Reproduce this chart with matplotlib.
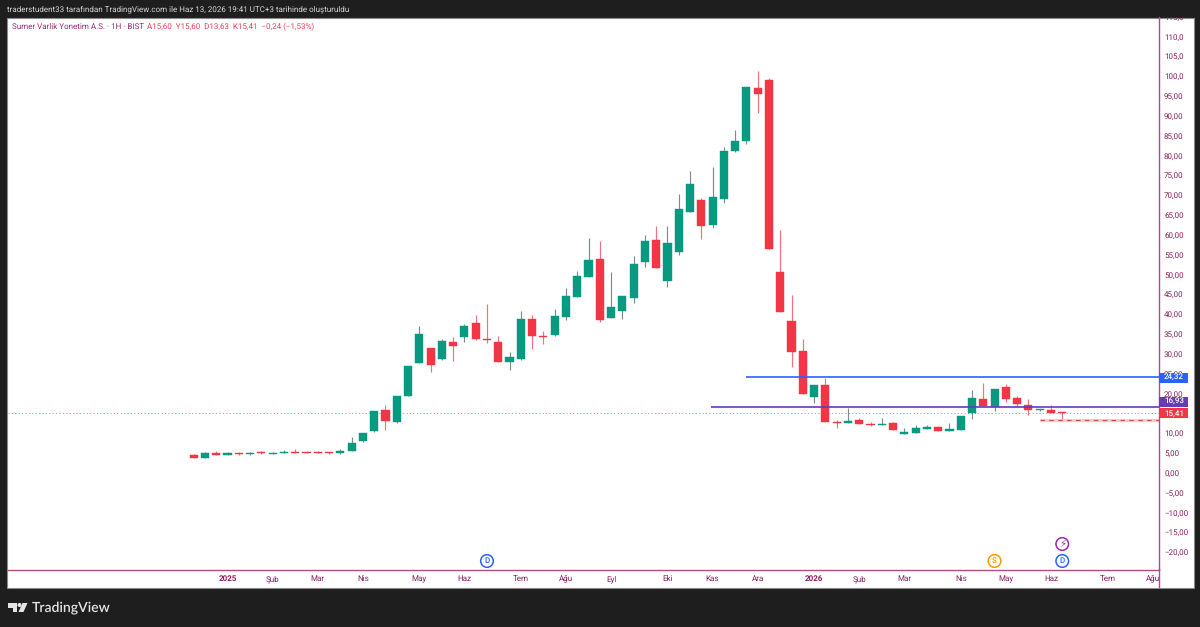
import matplotlib
matplotlib.use("Agg")
import matplotlib.pyplot as plt
from matplotlib.patches import Rectangle, Polygon, Circle
from matplotlib.transforms import ScaledTranslation, Bbox, TransformedBbox, IdentityTransform

# ---------- data (weekly candles) ----------
opens = [4.67,4.08,5.17,4.83,5.13,4.92,5.42,5.0,5.25,5.59,5.5,5.5,5.38,5.25,5.84,8.36,10.8,16.01,13.07,19.54,
         27.94,31.64,28.95,33.15,34.41,38.11,34.0,33.32,28.11,29.03,39.12,34.67,34.92,39.45,44.49,49.71,54.24,39.29,40.97,44.41,
         53.32,59.03,48.7,56.01,65.92,68.95,62.73,69.28,81.3,83.82,97.27,99.28,50.96,38.44,30.88,19.37,22.48,13.06,12.73,13.49,
         12.64,12.31,12.73,10.04,10.21,11.3,11.72,10.8,11.13,15.25,18.78,16.93,21.97,19.12,17.27,16.09,16.17,15.6]
highs = [5.0,5.42,5.67,5.5,5.42,5.5,5.75,5.5,6.0,6.18,5.67,5.67,5.5,6.18,9.29,10.38,15.84,17.35,19.62,27.19,
         37.19,31.64,34.08,34.5,37.86,39.96,42.9,34.66,30.8,40.97,40.13,35.92,41.64,46.85,51.05,59.37,58.7,50.8,44.75,54.83,
         60.3,62.56,62.39,70.46,76.3,69.62,77.3,82.3,86.6,97.6,101.64,99.7,61.55,45.0,33.99,22.31,24.24,13.57,16.59,13.99,
         13.06,14.07,13.15,11.64,12.39,12.22,12.14,12.9,14.5,21.13,22.98,21.3,22.73,19.7,18.78,16.4,17.43,15.6]
lows = [3.99,3.99,4.67,4.75,4.83,4.75,5.09,5.0,5.17,5.17,5.17,5.17,5.09,5.0,5.67,8.11,10.55,11.14,12.82,19.54,
        27.94,25.67,28.61,28.36,33.24,33.82,32.9,28.11,26.26,28.78,31.55,32.73,34.75,38.78,44.49,49.62,38.36,39.29,39.12,43.07,
        52.14,51.81,47.1,55.17,65.92,59.2,61.97,68.28,81.0,83.15,91.05,56.68,40.8,26.85,20.04,17.86,13.07,11.5,12.73,12.48,
        12.14,12.31,11.13,9.96,10.21,11.3,10.8,10.8,11.13,13.9,17.01,15.84,18.1,16.85,14.75,15.9,15.42,13.63]
closes = [3.99,5.17,4.83,5.17,4.96,5.25,5.17,5.17,5.5,5.25,5.25,5.25,5.22,5.76,7.78,10.38,15.84,13.32,19.62,27.19,
          35.17,27.52,33.49,32.23,37.27,33.91,33.74,28.11,29.37,38.95,34.75,34.41,39.79,44.75,49.79,53.82,38.87,41.97,44.75,52.9,
          58.7,51.81,58.11,66.68,73.07,62.39,69.79,81.3,83.8,97.6,95.84,56.68,40.8,30.71,20.04,22.31,13.07,12.81,13.4,12.48,
          12.39,12.64,11.13,10.54,11.47,11.72,10.8,11.22,14.5,19.03,17.01,21.3,18.95,17.6,16.0,16.26,15.42,15.41]

month_positions = [3,7,11,15,20,24,29,33,37,42,46,50,55,59,63,68,72,76,81,85]
month_labels = ["2025","Şub","Mar","Nis","May","Haz","Tem","Ağu","Eyl","Eki","Kas","Ara",
                "2026","Şub","Mar","Nis","May","Haz","Tem","Ağu"]
bold_labels = ["2025","2026"]
price_ticks = [-20,-15,-10,-5,0,5,10,20,25,30,35,40,45,50,55,60,65,70,75,80,85,90,95,100,105,110,115]

last_price = 15.41
blue_level = 24.32
purple_level = 16.93
dashed_level = 13.5
blue_start = 49
purple_start = 45.85
dashed_start = 75.03
flag_d1 = 26.0
flag_s = 71
flag_d2 = 77

UP = "#089981"; DOWN = "#f23645"
AXIS = "#b04c8a"; LABEL = "#86205f"; BG = "#1e1e1e"
W, H = 1200, 627
FS = 6.1
plt.rcParams["font.family"] = ["Roboto","DejaVu Sans"]
plt.rcParams["text.hinting"] = "no_hinting"
plt.rcParams["text.hinting_factor"] = 1

fig = plt.figure(figsize=(W/100, H/100), dpi=100, facecolor=BG)
def fx(x): return x/W
def fy(y): return 1-y/H

# white panel
fig.add_artist(Rectangle((fx(7),fy(587.5)),(1193.5-7)/W,(587.5-17.5)/H,transform=fig.transFigure,
                         fc="white",ec="#8a8a8a",lw=0.8,zorder=0))

# main axes: x data = candle index, y data = price
L,R,T,B = 7.5,1158.5,17.5,569.5
ax = fig.add_axes([fx(L),fy(B),(R-L)/W,(B-T)/H],facecolor="none",zorder=2)
px = 11.28
ax.set_xlim((L-193.7)/px,(R-193.7)/px)
y0=473.8; k=3.967
ax.set_ylim((y0-B)/k,(y0-T)/k)
for s in ["top","left"]: ax.spines[s].set_visible(False)
ax.spines["right"].set_color(AXIS); ax.spines["bottom"].set_color(AXIS)
ax.spines["right"].set_linewidth(1.0); ax.spines["bottom"].set_linewidth(1.0)

# candles
for i,(o,h,l,c) in enumerate(zip(opens,highs,lows,closes)):
    col = UP if c>=o else DOWN
    wick = "#7f8a8a" if c>=o else "#f4707c"
    ax.vlines(i,l,h,color=wick,lw=0.85,zorder=3)
    ax.add_patch(Rectangle((i-0.36,min(o,c)),0.72,max(abs(c-o),0.25),fc=col,ec=col,lw=0.3,zorder=4))

# levels
xmax = ax.get_xlim()[1]
ax.axhline(last_price,color=DOWN,lw=0.7,ls=(0,(1,2.5)),alpha=0.7,zorder=2)
ax.hlines(blue_level,blue_start,xmax,color="#2962ff",lw=1.2,zorder=5)
ax.hlines(purple_level,purple_start,xmax,color="#673ab7",lw=1.2,zorder=5)
ax.hlines(dashed_level,dashed_start,xmax,color="#f7c4a0",lw=2.2,alpha=0.85,zorder=5)
ax.hlines(dashed_level,dashed_start,xmax,color="#d9455f",lw=0.8,ls=(0,(4,4)),zorder=6)

# y ticks (labels above 100 are cut by the scale width in the picture)
def ylab(v):
    s = f"{v:.1f}" if v >= 100 else f"{v:.2f}"
    return s.replace(".",",").replace("-","\u2212")
ax.yaxis.tick_right()
ax.set_yticks(price_ticks)
ax.set_yticklabels([ylab(v) for v in price_ticks],fontsize=FS,color=LABEL)
ax.tick_params(axis="y",length=0,pad=4)
up1 = ScaledTranslation(0,1/100,fig.dpi_scale_trans)
for lab,v in zip(ax.get_yticklabels(),price_ticks):
    lab.set_ha("left")
    lab.set_transform(lab.get_transform()+up1)
    if v == 25:  # only its top shows above the blue price label
        lab.set_clip_box(TransformedBbox(Bbox([[1150,H-372.8],[1195,H-360]]),IdentityTransform()))
        lab.set_clip_on(True)

# x ticks
ax.set_xticks(month_positions)
ax.set_xticklabels(month_labels,fontsize=FS,color=LABEL)
ax.tick_params(axis="x",length=0,pad=8.2)
for lab,t in zip(ax.get_xticklabels(),month_labels):
    lab.set_va("baseline")
    if t in bold_labels: lab.set_fontweight("bold")

# extend vertical axis line into the time scale
fig.add_artist(plt.Line2D([fx(R),fx(R)],[fy(569),fy(587)],color=AXIS,lw=1.0,zorder=3))
# mask over the top of the scale so that the 115 label is cut by the panel edge
fig.add_artist(Rectangle((fx(1159.5),fy(17.2)),33/W,17.2/H,transform=fig.transFigure,fc=BG,ec="none",zorder=9))

# price labels (the purple one is pushed up so that it clears the red one)
for v,c,shift in [(blue_level,"#2962ff",0.5),(purple_level,"#673ab7",-5),(last_price,DOWN,0.5)]:
    ypix=y0-v*k+shift
    fig.add_artist(Rectangle((fx(R+0.5),fy(ypix+5)),(1187.5-R)/W,10/H,transform=fig.transFigure,fc=c,ec="none",zorder=6))
    fig.text(fx(1164),fy(ypix),f"{v:.2f}".replace(".",","),color="white",fontsize=FS,fontweight="medium",ha="left",va="center",zorder=7)

# header
fig.text(fx(7),fy(9),"traderstudent33 tarafından TradingView.com ile Haz 13, 2026 19:41 UTC+3 tarihinde oluşturuldu",
         color="#d6d6d6",fontsize=6.0,ha="left",va="center")
fig.text(fx(11.5),fy(27),"Sumer Varlik Yonetim A.S. · 1H · BIST",color="#93307a",fontsize=6.05,ha="left",va="center",zorder=8)
fig.text(fx(147),fy(27),"A15,60  Y15,60  D13,63  K15,41  \u22120,24 (\u22121,53%)",color="#ee3f5b",fontsize=6.05,ha="left",va="center",zorder=8)

# event flags
def flag(xdata,ypx,txt,col,size=6.0):
    xp=193.7+xdata*px
    fig.add_artist(Circle((xp,H-ypx),6.3,transform=None,fc="white",ec=col,lw=1.1,zorder=8))
    fig.text(fx(xp),fy(ypx),txt,color=col,fontsize=size,ha="center",va="center",zorder=9,fontweight="medium")
flag(flag_d1,561,"D","#2962ff")
flag(flag_s,561,"S","#ff9800")
flag(flag_d2,561,"D","#2962ff")
flag(flag_d2,544,"\u26a1","#9c27b0",7)

# logo
LOGO="#e4e4e4"
fig.add_artist(Polygon([(fx(a),fy(b)) for a,b in [(8,603),(17,603),(17,612),(12.5,612),(12.5,607.5),(8,607.5)]],
                       transform=fig.transFigure,fc=LOGO,ec="none"))
fig.add_artist(Polygon([(fx(a),fy(b)) for a,b in [(17.6,604),(18.8,603),(20.3,603),(21.3,604),(21.3,606),(20.3,607),(18.8,607),(17.6,606)]],
                       transform=fig.transFigure,fc=LOGO,ec="none"))
fig.add_artist(Polygon([(fx(a),fy(b)) for a,b in [(22.5,603),(27.5,603),(23.5,612),(18.5,612)]],
                       transform=fig.transFigure,fc=LOGO,ec="none"))
fig.text(fx(32),fy(607.5),"TradingView",color=LOGO,fontsize=10.4,fontweight="semibold",ha="left",va="center",family="Lato")

fig.savefig("out.png",dpi=100,facecolor=BG)
